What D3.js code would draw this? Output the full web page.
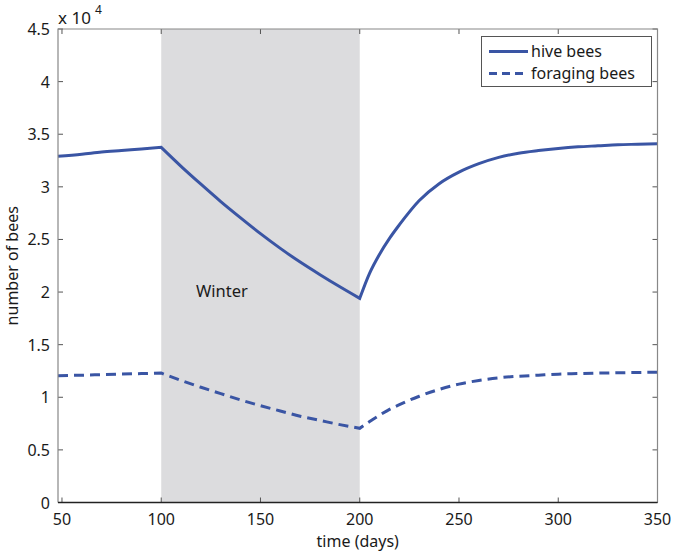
<!DOCTYPE html>
<html>
<head>
<meta charset="utf-8">
<script src="https://cdn.jsdelivr.net/npm/d3@7.9.0/dist/d3.min.js"></script>
<style>
  body { margin: 0; background: #fff; }
  svg text { font-family: "Noto Sans", "Open Sans", sans-serif; fill: #1a1a1a; }
</style>
</head>
<body>
<svg id="chart" width="675" height="553"></svg>
<script>
// time (days)
const days = [48, 60, 70, 80, 90, 100, 110, 120, 130, 140, 150, 160, 170, 180, 190, 200,
  205, 210, 215, 220, 230, 240, 250, 260, 270, 280, 290, 300, 310, 320, 330, 340, 350];
// number of bees, in units of 1e4
const hiveBees = [3.29, 3.31, 3.33, 3.345, 3.36, 3.375, 3.195, 3.025, 2.86, 2.705, 2.555, 2.415, 2.285, 2.165, 2.05, 1.94,
  2.18, 2.36, 2.51, 2.64, 2.87, 3.03, 3.14, 3.22, 3.28, 3.32, 3.345, 3.365, 3.38, 3.39, 3.40, 3.405, 3.41];
const foragingBees = [1.205, 1.21, 1.215, 1.22, 1.225, 1.23, 1.16, 1.095, 1.035, 0.975, 0.92, 0.87, 0.82, 0.78, 0.74, 0.705,
  0.77, 0.83, 0.885, 0.93, 1.01, 1.075, 1.125, 1.16, 1.185, 1.2, 1.21, 1.22, 1.225, 1.23, 1.233, 1.236, 1.238];
const winter = [100, 200];
const xTicks = [50, 100, 150, 200, 250, 300, 350];
const yTicks = [0, 0.5, 1, 1.5, 2, 2.5, 3, 3.5, 4, 4.5];
const seriesNames = ["hive bees", "foraging bees"];

const m = { left: 58, right: 657.5, top: 29, bottom: 502.5 };
const blue = "#3a55a4";

const svg = d3.select("#chart");
const x = d3.scaleLinear().domain([48, 350]).range([m.left, m.right]);
const y = d3.scaleLinear().domain([0, 4.5]).range([m.bottom, m.top]);

// winter shading
svg.append("rect")
  .attr("x", x(winter[0]))
  .attr("y", m.top)
  .attr("width", x(winter[1]) - x(winter[0]))
  .attr("height", m.bottom - m.top)
  .attr("fill", "#dcdcde");

svg.append("text")
  .attr("x", 196)
  .attr("y", 297)
  .attr("font-size", 16.5)
  .text("Winter");

// ticks (inward, on all four sides)
const tickLen = 5;
const tickG = svg.append("g").attr("stroke", "#555").attr("stroke-width", 1);
xTicks.forEach((t) => {
  tickG.append("line").attr("x1", x(t)).attr("x2", x(t)).attr("y1", m.bottom).attr("y2", m.bottom - tickLen);
  tickG.append("line").attr("x1", x(t)).attr("x2", x(t)).attr("y1", m.top).attr("y2", m.top + tickLen);
});
yTicks.forEach((t) => {
  tickG.append("line").attr("x1", m.left).attr("x2", m.left + tickLen).attr("y1", y(t)).attr("y2", y(t));
  tickG.append("line").attr("x1", m.right).attr("x2", m.right - tickLen).attr("y1", y(t)).attr("y2", y(t));
});

// lines: smooth within each season, sharp corners at the winter edges
const lineGen = d3.line()
  .x((d) => x(d[0]))
  .y((d) => y(d[1]))
  .curve(d3.curveMonotoneX);

function seasonPath(vals) {
  const pts = days.map((d, i) => [d, vals[i]]);
  const parts = [
    pts.filter((p) => p[0] <= winter[0]),
    pts.filter((p) => p[0] >= winter[0] && p[0] <= winter[1]),
    pts.filter((p) => p[0] >= winter[1]),
  ];
  return parts
    .map((p, i) => {
      const s = lineGen(p);
      return i === 0 ? s : s.replace(/^M[^CL]*/, "");
    })
    .join("");
}

svg.append("path")
  .attr("d", seasonPath(hiveBees))
  .attr("fill", "none")
  .attr("stroke", blue)
  .attr("stroke-width", 3)
  .attr("stroke-linejoin", "miter");

svg.append("path")
  .attr("d", seasonPath(foragingBees))
  .attr("fill", "none")
  .attr("stroke", blue)
  .attr("stroke-width", 3)
  .attr("stroke-dasharray", "10,6");

// box
svg.append("path")
  .attr("d", `M${m.left},${m.bottom}V${m.top}H${m.right}V${m.bottom}`)
  .attr("fill", "none")
  .attr("stroke", "#888")
  .attr("stroke-width", 1.2);
svg.append("line")
  .attr("x1", m.left).attr("x2", m.right).attr("y1", m.bottom).attr("y2", m.bottom)
  .attr("stroke", "#222").attr("stroke-width", 1.5);

// tick labels
svg.append("g").selectAll("text").data(xTicks).join("text")
  .attr("x", (d) => x(d))
  .attr("y", 525)
  .attr("text-anchor", "middle")
  .attr("font-size", 16)
  .text((d) => d);

svg.append("g").selectAll("text").data(yTicks).join("text")
  .attr("x", 50)
  .attr("y", (d) => y(d) + 6)
  .attr("text-anchor", "end")
  .attr("font-size", 16)
  .text((d) => d);

// exponent
svg.append("text").attr("x", 58).attr("y", 24).attr("font-size", 17).text("x 10");
svg.append("text").attr("x", 95).attr("y", 14).attr("font-size", 12).text("4");

// axis labels
svg.append("text")
  .attr("x", (m.left + m.right) / 2)
  .attr("y", 547)
  .attr("text-anchor", "middle")
  .attr("font-size", 16)
  .text("time (days)");

svg.append("text")
  .attr("transform", `translate(18,${(m.top + m.bottom) / 2}) rotate(-90)`)
  .attr("text-anchor", "middle")
  .attr("font-size", 16)
  .text("number of bees");

// legend
const lg = svg.append("g");
lg.append("rect")
  .attr("x", 481.5).attr("y", 36.5)
  .attr("width", 170).attr("height", 50)
  .attr("fill", "#fff").attr("stroke", "#555").attr("stroke-width", 1);
seriesNames.forEach((name, i) => {
  const cy = 51.5 + i * 22;
  lg.append("line")
    .attr("x1", 489).attr("x2", 528).attr("y1", cy).attr("y2", cy)
    .attr("stroke", blue).attr("stroke-width", 3)
    .attr("stroke-dasharray", i === 1 ? "8,5" : null);
  lg.append("text")
    .attr("x", 531).attr("y", cy + 5.5)
    .attr("font-size", 16)
    .text(name);
});
</script>
</body>
</html>
